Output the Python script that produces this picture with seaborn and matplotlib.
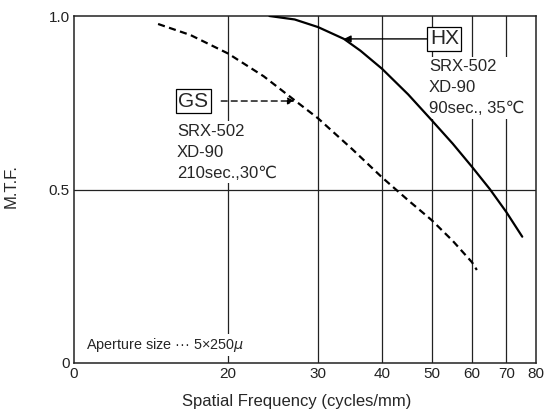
import numpy as np
import pandas as pd
import seaborn as sns
import matplotlib.pyplot as plt
from matplotlib.ticker import FixedLocator, FixedFormatter, NullLocator

# values (frequency in cycles/mm, MTF)
gs_freq = [14.6, 16.9, 20, 23.5, 27, 30, 35, 40, 45, 50, 55, 60, 61.3]
gs_mtf = [0.977, 0.945, 0.892, 0.826, 0.757, 0.705, 0.616, 0.535, 0.469, 0.412, 0.352, 0.29, 0.268]

hx_freq = [24.1, 27, 30, 33.7, 36.3, 40, 45, 50, 55, 60, 65, 70, 75.2]
hx_mtf = [1.0, 0.99, 0.968, 0.934, 0.90, 0.848, 0.774, 0.70, 0.632, 0.565, 0.501, 0.435, 0.364]

x_ticks = [10, 20, 30, 40, 50, 60, 70, 80]
x_labels = ['0', '20', '30', '40', '50', '60', '70', '80']
y_ticks = [0, 0.5, 1.0]
y_labels = ['0', '0.5', '1.0']

sns.set_style('white')
plt.rcParams['font.family'] = ['Liberation Sans', 'DejaVu Sans']

fig = plt.figure(figsize=(5.46, 4.17), dpi=100)
ax = fig.add_axes([74 / 546, 1 - 363 / 417, 462 / 546, 347 / 417])

gs = pd.DataFrame({'freq': gs_freq, 'mtf': gs_mtf})
hx = pd.DataFrame({'freq': hx_freq, 'mtf': hx_mtf})
sns.lineplot(data=gs, x='freq', y='mtf', ax=ax, color='black', lw=1.6,
             linestyle=(0, (3.2, 2.0)), zorder=4)
sns.lineplot(data=hx, x='freq', y='mtf', ax=ax, color='black', lw=1.6, zorder=4)

ax.set_xscale('log')
ax.set_xlim(10, 80)
ax.set_ylim(0, 1.0)
ax.xaxis.set_major_locator(FixedLocator(x_ticks))
ax.xaxis.set_major_formatter(FixedFormatter(x_labels))
ax.xaxis.set_minor_locator(NullLocator())
ax.set_yticks(y_ticks)
ax.set_yticklabels(y_labels)
ax.tick_params(length=0, labelsize=11, colors='#222222', pad=3)

for v in x_ticks[1:-1]:
    ax.axvline(v, color='#222222', lw=0.9, zorder=0)
ax.axhline(0.5, color='#222222', lw=0.9, zorder=0)
for s in ax.spines.values():
    s.set_color('#222222')
    s.set_linewidth(1.1)

ax.set_xlabel('Spatial Frequency (cycles/mm)', fontsize=12)
ax.xaxis.set_label_coords(0.483, -0.09)
ax.set_ylabel('M.T.F.', fontsize=12)
ax.yaxis.set_label_coords(-0.119, 0.51)

box = dict(boxstyle='square,pad=0.12', fc='white', ec='black', lw=0.9)
blank = dict(boxstyle='square,pad=0.15', fc='white', ec='none')

# HX label with solid arrow
ax.annotate('', xy=(33.7, 0.934), xytext=(49.2, 0.934),
            arrowprops=dict(arrowstyle='-|>', color='black', lw=1.0,
                            mutation_scale=10, shrinkA=0, shrinkB=0))
ax.text(49.6, 0.934, 'HX', fontsize=15, va='center', ha='left', bbox=box, zorder=3)
ax.text(49.4, 0.875, 'SRX-502\nXD-90\n90sec., 35℃', fontsize=12,
        va='top', ha='left', linespacing=1.5, bbox=blank, zorder=2)

# GS label with dashed arrow
ax.text(16.0, 0.755, 'GS', fontsize=15, va='center', ha='left', bbox=box, zorder=3)
ax.annotate('', xy=(27.0, 0.755), xytext=(19.4, 0.755),
            arrowprops=dict(arrowstyle='-|>', color='black', lw=1.0,
                            linestyle=(0, (4.3, 2.9)), mutation_scale=10,
                            shrinkA=0, shrinkB=0))
ax.text(15.9, 0.69, 'SRX-502\nXD-90\n210sec.,30℃', fontsize=12,
        va='top', ha='left', linespacing=1.5, bbox=blank, zorder=2)

ax.text(10.55, 0.052, 'Aperture size ··· 5×250$\\mu$', fontsize=10.4,
        va='center', ha='left', bbox=blank, zorder=2)

fig.savefig('out.png', dpi=100, facecolor='white')
